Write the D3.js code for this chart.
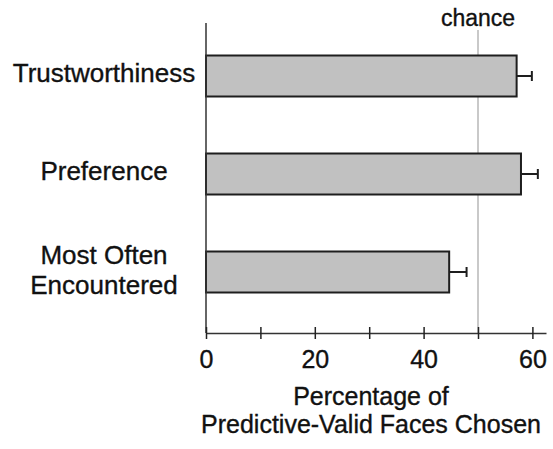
<!DOCTYPE html>
<html>
<head>
<meta charset="utf-8">
<script src="https://cdn.jsdelivr.net/npm/d3@7"></script>
<style>
  body { margin: 0; background: #fff; }
  svg { display: block; font-family: "Liberation Sans", Arial, Helvetica, sans-serif; }
  svg text { stroke: #111; stroke-width: 0.35px; }
</style>
</head>
<body>
<div id="chart"></div>
<script>
const categories = ['Trustworthiness', 'Preference', 'Most Often Encountered'];
const labelLines = [['Trustworthiness'], ['Preference'], ['Most Often', 'Encountered']];
const means = [57.1, 57.9, 44.7];
const errors = [2.8, 3.1, 3.2];
const tickValues = [0, 10, 20, 30, 40, 50, 60];
const tickLabels = ['0', '', '20', '', '40', '', '60'];
const chanceLevel = 50;

const width = 553, height = 449;
const axisY = 333, axisTop = 23;

const svg = d3.select('#chart')
  .append('svg')
  .attr('width', width)
  .attr('height', height);

const x = d3.scaleLinear()
  .domain([0, 62.5])
  .range([206, 546]);

const y = d3.scalePoint()
  .domain(categories)
  .range([76, 272]);

const barH = 41;

// chance line
svg.append('line')
  .attr('x1', x(chanceLevel)).attr('x2', x(chanceLevel))
  .attr('y1', 30).attr('y2', axisY)
  .attr('stroke', '#c9c9c9')
  .attr('stroke-width', 2);

svg.append('text')
  .attr('x', x(chanceLevel))
  .attr('y', 26)
  .attr('text-anchor', 'middle')
  .attr('font-size', '23px')
  .attr('fill', '#111')
  .text('chance');

// bars
svg.selectAll('.bar')
  .data(categories)
  .enter().append('rect')
  .attr('class', 'bar')
  .attr('x', x(0))
  .attr('y', d => y(d) - barH / 2)
  .attr('width', (d, i) => x(means[i]) - x(0))
  .attr('height', barH)
  .attr('fill', '#c1c1c1')
  .attr('stroke', '#1e1e1e')
  .attr('stroke-width', 2);

// error bars
const err = svg.selectAll('.err')
  .data(categories)
  .enter().append('g')
  .attr('class', 'err')
  .attr('stroke', '#1e1e1e')
  .attr('stroke-width', 2);

err.append('line')
  .attr('x1', (d, i) => x(means[i]))
  .attr('x2', (d, i) => x(means[i] + errors[i]))
  .attr('y1', d => y(d))
  .attr('y2', d => y(d));

err.append('line')
  .attr('x1', (d, i) => x(means[i] + errors[i]))
  .attr('x2', (d, i) => x(means[i] + errors[i]))
  .attr('y1', d => y(d) - 5)
  .attr('y2', d => y(d) + 5);

// y axis line
svg.append('line')
  .attr('x1', x(0)).attr('x2', x(0))
  .attr('y1', axisTop).attr('y2', axisY)
  .attr('stroke', '#333')
  .attr('stroke-width', 1.5);

// category labels
const labels = svg.selectAll('.cat')
  .data(categories)
  .enter().append('text')
  .attr('class', 'cat')
  .attr('text-anchor', 'middle')
  .attr('font-size', '26px')
  .attr('fill', '#111');

labels.each(function (d, i) {
  const lines = labelLines[i];
  const el = d3.select(this);
  lines.forEach((t, j) => {
    el.append('tspan')
      .attr('x', 104)
      .attr('y', y(d) + 6 - (lines.length - 1) * 15 + j * 30 + (lines.length > 1 ? 1 : 0))
      .text(t);
  });
});

// x axis
const xAxis = svg.append('g')
  .attr('transform', `translate(0,${axisY})`)
  .call(d3.axisBottom(x)
    .tickValues(tickValues)
    .tickFormat((d, i) => tickLabels[i])
    .tickSizeInner(6)
    .tickSizeOuter(0)
    .tickPadding(0));

xAxis.select('.domain')
  .attr('stroke', '#333')
  .attr('stroke-width', 1.5);

xAxis.selectAll('.tick line')
  .attr('y1', -6)
  .attr('y2', 6)
  .attr('stroke', '#222')
  .attr('stroke-width', 1.5);

xAxis.selectAll('.tick text')
  .attr('y', 35)
  .attr('dy', 0)
  .attr('font-size', '25px')
  .attr('font-family', '"Liberation Sans", Arial, Helvetica, sans-serif')
  .attr('fill', '#111');

// x axis title
const title = svg.append('text')
  .attr('text-anchor', 'middle')
  .attr('font-size', '25px')
  .attr('fill', '#111');

title.append('tspan').attr('x', 371).attr('y', 405).text('Percentage of');
title.append('tspan').attr('x', 371).attr('y', 433).text('Predictive-Valid Faces Chosen');
</script>
</body>
</html>
